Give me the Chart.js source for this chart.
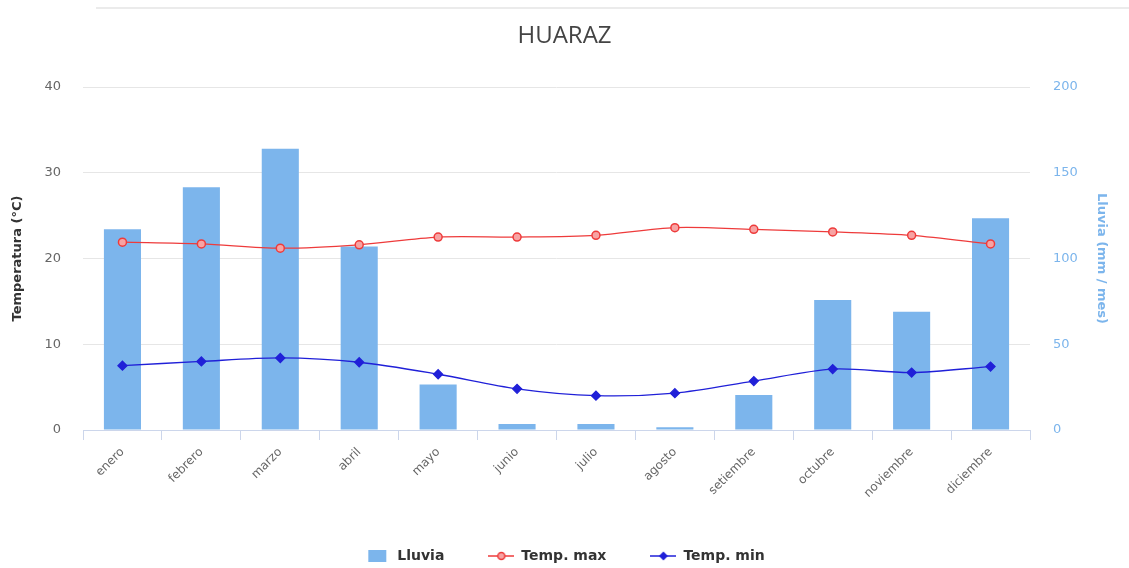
<!DOCTYPE html>
<html><head><meta charset="utf-8">
<script src="https://cdn.jsdelivr.net/npm/chart.js@4.4.0/dist/chart.umd.min.js"></script>
<style>
html,body{margin:0;padding:0;background:#fff;overflow:hidden;}
#wrap{position:relative;width:1129px;height:573px;}
#topline{position:absolute;left:96px;right:0;top:7px;height:2px;background:#ebebeb;}
canvas{display:block}
</style></head><body>
<div id="wrap"><div id="topline"></div><canvas id="c" width="1129" height="573"></canvas></div>
<script>
const months = ['enero','febrero','marzo','abril','mayo','junio','julio','agosto','setiembre','octubre','noviembre','diciembre'];
const rain = [117, 141.5, 164, 107, 26.6, 3.5, 3.5, 1.6, 20.4, 75.8, 69, 123.5];
const tmax = [21.9, 21.7, 21.2, 21.6, 22.5, 22.5, 22.7, 23.6, 23.4, 23.1, 22.7, 21.7];
const tmin = [7.5, 8.0, 8.4, 7.9, 6.5, 4.8, 4.0, 4.3, 5.7, 7.1, 6.7, 7.4];
const tempTicks = [0, 10, 20, 30, 40];
const rainTicks = [0, 50, 100, 150, 200];

const FONT = 'DejaVu Sans';
const RAIN_COLOR = '#7cb5ec';
const MAX_COLOR = '#ee3b3b';
const MIN_COLOR = '#2020d8';

function icon(kind) {
  const c = document.createElement('canvas');
  c.width = 26; c.height = 14;
  const g = c.getContext('2d');
  if (kind === 'bar') {
    g.fillStyle = RAIN_COLOR;
    g.fillRect(4, 1, 18, 12);
  } else {
    const col = kind === 'max' ? MAX_COLOR : MIN_COLOR;
    g.strokeStyle = col; g.lineWidth = 1.5;
    g.beginPath(); g.moveTo(0, 7); g.lineTo(26, 7); g.stroke();
    if (kind === 'max') {
      g.fillStyle = '#f7a3a3';
      g.beginPath(); g.arc(13, 7, 3.5, 0, Math.PI * 2); g.fill(); g.stroke();
    } else {
      g.fillStyle = col;
      g.beginPath(); g.moveTo(13, 2.5); g.lineTo(17.5, 7); g.lineTo(13, 11.5); g.lineTo(8.5, 7); g.closePath(); g.fill();
    }
  }
  return c;
}
const icons = [icon('bar'), icon('max'), icon('min')];

new Chart(document.getElementById('c'), {
  type: 'bar',
  data: {
    labels: months,
    datasets: [
      { type: 'bar', label: 'Lluvia', data: rain, yAxisID: 'y1', backgroundColor: RAIN_COLOR,
        categoryPercentage: 0.5, barPercentage: 0.94, order: 3 },
      { type: 'line', label: 'Temp. max', data: tmax, yAxisID: 'y', borderColor: MAX_COLOR, borderWidth: 1.3,
        pointStyle: 'circle', pointRadius: 4, pointBackgroundColor: '#f7a3a3', pointBorderColor: MAX_COLOR,
        pointBorderWidth: 1.5, tension: 0.3, order: 1 },
      { type: 'line', label: 'Temp. min', data: tmin, yAxisID: 'y', borderColor: MIN_COLOR, borderWidth: 1.3,
        pointStyle: 'rectRot', pointRadius: 4.5, pointBackgroundColor: MIN_COLOR, pointBorderColor: MIN_COLOR,
        tension: 0.3, order: 2 }
    ]
  },
  options: {
    responsive: false,
    animation: false,
    layout: { padding: 0 },
    plugins: {
      tooltip: { enabled: false },
      title: { display: true, text: 'HUARAZ', color: '#444',
        font: { family: 'Open Sans', size: 24, weight: 'normal' },
        padding: { top: 22, bottom: 36.2 } },
      legend: {
        position: 'bottom',
        labels: {
          usePointStyle: true, pointStyleWidth: 26, padding: 44,
          color: '#333', font: { family: FONT, size: 14, weight: 'bold' },
          generateLabels: (chart) => chart.data.datasets.map((d, i) => ({
            text: d.label, pointStyle: icons[i], fillStyle: 'transparent', strokeStyle: 'transparent',
            lineWidth: 0, hidden: false, datasetIndex: i, fontColor: '#333'
          }))
        }
      }
    },
    scales: {
      x: {
        grid: { offset: true, drawOnChartArea: false, drawTicks: true, tickLength: 10, color: '#ccd6eb' },
        border: { color: '#ccd6eb' },
        ticks: { maxRotation: 45, minRotation: 45, color: '#666', font: { family: FONT, size: 12 }, padding: 5 },
        afterFit: s => { s.height = 75; }
      },
      y: {
        position: 'left', min: 0, max: 40,
        afterBuildTicks: s => { s.ticks = tempTicks.map(v => ({ value: v })); },
        ticks: { color: '#666', padding: 22, font: { family: FONT, size: 13 } },
        grid: { color: '#e6e6e6', drawTicks: false },
        border: { display: false },
        title: { display: true, text: 'Temperatura (°C)', color: '#333',
          font: { family: FONT, size: 13, weight: 'bold' }, padding: { top: 10 } },
        afterFit: s => { s.width = 83; }
      },
      y1: {
        position: 'right', min: 0, max: 200,
        afterBuildTicks: s => { s.ticks = rainTicks.map(v => ({ value: v })); },
        ticks: { color: RAIN_COLOR, padding: 23, font: { family: FONT, size: 13 } },
        grid: { drawOnChartArea: false, drawTicks: false },
        border: { display: false },
        title: { display: true, text: 'Lluvia (mm / mes)', color: RAIN_COLOR,
          font: { family: FONT, size: 13, weight: 'bold' }, padding: { top: 20 } },
        afterFit: s => { s.width = 99; }
      }
    }
  }
});
</script>
</body></html>
